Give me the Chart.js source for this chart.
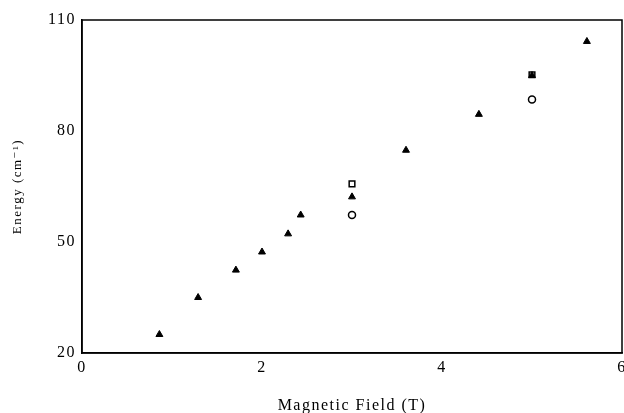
<!DOCTYPE html>
<html>
<head>
<meta charset="utf-8">
<script src="https://cdn.jsdelivr.net/npm/chart.js@4"></script>
<style>
  html, body { margin: 0; padding: 0; background: #fff; overflow: hidden; }
  #wrap { width: 631px; height: 413px; }
</style>
</head>
<body>
<div id="wrap"><canvas id="chart"></canvas></div>
<script>
// triangles: main series
const triField = [0.86, 1.29, 1.71, 2.0, 2.29, 2.43, 3.0, 3.6, 4.41, 5.0, 5.61];
const triEnergy = [25.0, 35.0, 42.4, 47.3, 52.2, 57.3, 62.2, 74.8, 84.5, 95.0, 104.2];
// open squares
const sqField = [3.0, 5.0];
const sqEnergy = [65.7, 95.2];
// open circles
const circField = [3.0, 5.0];
const circEnergy = [57.3, 88.5];

const xTicks = [0, 2, 4, 6];
const yTicks = [20, 50, 80, 110];

function toPoints(xs, ys) {
    return xs.map((x, i) => ({x: x, y: ys[i]}));
}

// box round the plot + wide letter spacing like the scanned figure
const frame = {
    id: 'frame',
    beforeDraw(chart) {
        chart.ctx.letterSpacing = '1.5px';
    },
    afterDraw(chart) {
        const a = chart.chartArea;
        const ctx = chart.ctx;
        ctx.save();
        ctx.strokeStyle = '#000';
        ctx.lineWidth = 1.5;
        ctx.strokeRect(a.left, a.top, a.right - a.left, a.bottom - a.top);
        ctx.restore();
    }
};

const serif = '"Liberation Serif", "DejaVu Serif", serif';

new Chart(document.getElementById('chart').getContext('2d'), {
    type: 'scatter',
    data: {
        datasets: [{
            label: 'triangles',
            data: toPoints(triField, triEnergy),
            pointStyle: 'triangle',
            pointRadius: 4,
            backgroundColor: '#000',
            borderColor: '#000',
            borderWidth: 1
        }, {
            label: 'squares',
            data: toPoints(sqField, sqEnergy),
            pointStyle: 'rect',
            pointRadius: 4,
            backgroundColor: 'rgba(0,0,0,0)',
            borderColor: '#000',
            borderWidth: 1.5
        }, {
            label: 'circles',
            data: toPoints(circField, circEnergy),
            pointStyle: 'circle',
            pointRadius: 3.5,
            backgroundColor: 'rgba(0,0,0,0)',
            borderColor: '#000',
            borderWidth: 1.5
        }]
    },
    options: {
        responsive: true,
        maintainAspectRatio: false,
        animation: false,
        layout: {padding: {top: 20, right: 0, left: 0, bottom: 0}},
        plugins: {
            legend: {display: false},
            tooltip: {enabled: false}
        },
        scales: {
            x: {
                type: 'linear',
                min: 0,
                max: 6,
                grid: {display: false, drawTicks: false},
                border: {color: '#000', width: 1.5},
                afterBuildTicks: s => { s.ticks = xTicks.map(v => ({value: v})); },
                afterFit: s => { s.height = 60; },
                ticks: {color: '#000', font: {family: serif, size: 16}, padding: 5, maxRotation: 0},
                title: {
                    display: true,
                    text: 'Magnetic Field (T)',
                    color: '#000',
                    font: {family: serif, size: 16, lineHeight: 0.9},
                    padding: {top: 12, bottom: 0}
                }
            },
            y: {
                type: 'linear',
                min: 20,
                max: 110,
                grid: {display: false, drawTicks: false},
                border: {color: '#000', width: 1.5},
                afterBuildTicks: s => { s.ticks = yTicks.map(v => ({value: v})); },
                afterFit: s => { s.width = 82; },
                ticks: {color: '#000', font: {family: serif, size: 16}, padding: 6},
                title: {
                    display: true,
                    text: 'Energy (cm\u207B\u00B9)',
                    color: '#000',
                    font: {family: serif, size: 13},
                    padding: {top: 10, bottom: 0}
                }
            }
        }
    },
    plugins: [frame]
});
</script>
</body>
</html>
